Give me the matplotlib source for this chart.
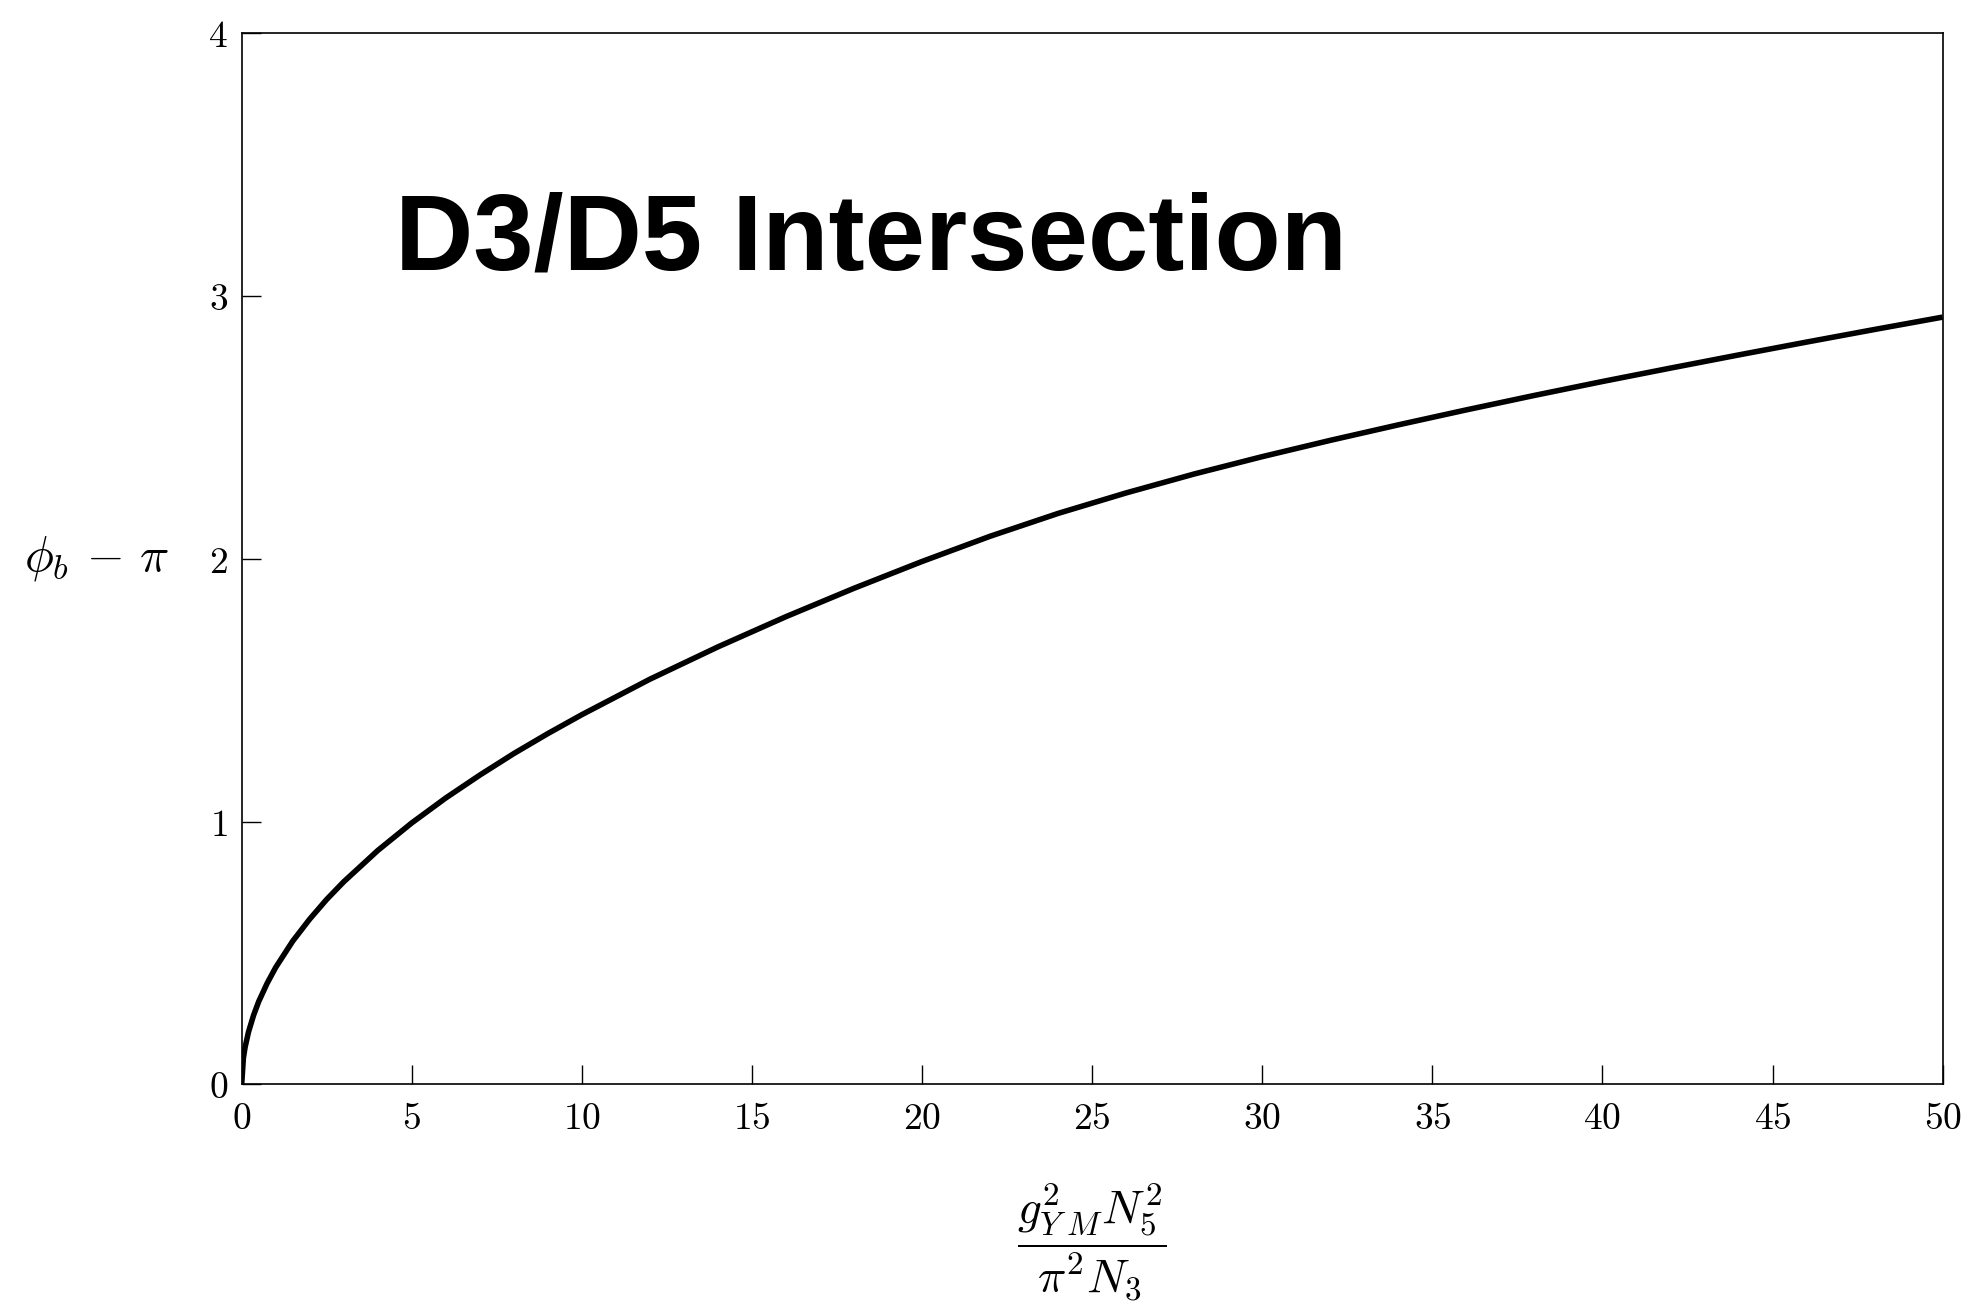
import matplotlib
matplotlib.use("Agg")
import matplotlib.pyplot as plt

plt.rcParams["mathtext.fontset"] = "cm"

# coupling g^2_YM N_5^2 / (pi^2 N_3)
coupling = [0, 0.05, 0.1, 0.2, 0.35, 0.5, 0.75, 1, 1.5, 2, 2.5, 3, 4, 5, 6, 7, 8,
            9, 10, 12, 14, 16, 18, 20, 22, 24, 26, 28, 30, 32, 34, 36, 38, 40,
            42, 44, 46, 48, 50]
# boundary angle phi_b - pi
phi_shift = [0, 0.10, 0.141, 0.199, 0.263, 0.315, 0.385, 0.445, 0.545, 0.629,
             0.704, 0.771, 0.890, 0.995, 1.090, 1.177, 1.259, 1.335, 1.407,
             1.542, 1.665, 1.780, 1.888, 1.990, 2.086, 2.173, 2.251, 2.323,
             2.389, 2.451, 2.510, 2.567, 2.622, 2.675, 2.726, 2.776, 2.825,
             2.873, 2.920]

x_ticks = [0, 5, 10, 15, 20, 25, 30, 35, 40, 45, 50]
y_ticks = [0, 1, 2, 3, 4]
title = "D3/D5 Intersection"

fig = plt.figure(figsize=(19.68, 13.03), dpi=100)
ax = fig.add_axes([0.1228, 0.1678, 0.8643, 0.8066])

ax.plot(coupling, phi_shift, color="black", lw=4.0, solid_capstyle="butt")

ax.set_xlim(0, 50)
ax.set_ylim(0, 4)
ax.set_xticks(x_ticks)
ax.set_yticks(y_ticks)
ax.set_xticklabels([f"${t}$" for t in x_ticks])
ax.set_yticklabels([f"${t}$" for t in y_ticks])
ax.tick_params(direction="in", length=14, width=1.0, labelsize=27,
               top=False, right=False)
ax.tick_params(axis="x", pad=12)
ax.tick_params(axis="y", pad=10)
for sp in ax.spines.values():
    sp.set_linewidth(1.2)

ax.set_ylabel(r"$\phi_b\,-\,\pi$", fontsize=35, rotation=0, ha="center", va="center")
ax.yaxis.set_label_coords(-0.0852, 0.5)
ax.set_xlabel(r"$\dfrac{g_{Y\;M}^2 N_5^2}{\pi^2 N_3}$", fontsize=34, va="center")
ax.xaxis.set_label_coords(0.5, -0.150)

ax.text(4.5, 3.103, title, fontsize=78, fontweight="bold",
        family="Liberation Sans", ha="left", va="baseline")

fig.savefig("out.png", dpi=100)
